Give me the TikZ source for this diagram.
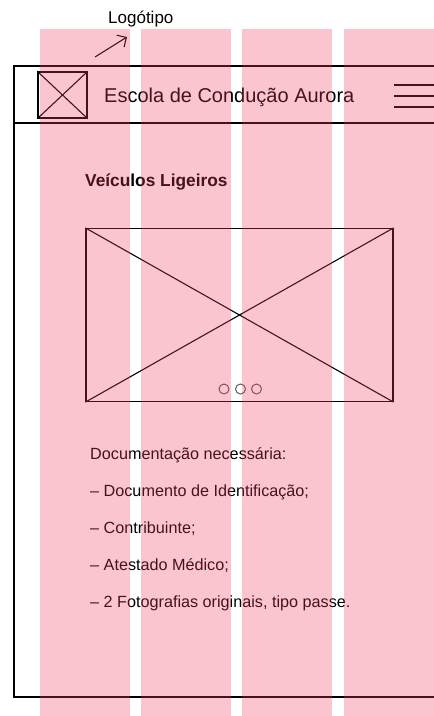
\documentclass[tikz,border=0pt]{standalone}
\usepackage{fontspec}
\setmainfont{Liberation Sans}
\usetikzlibrary{arrows.meta,positioning}
\definecolor{gridpink}{RGB}{238,62,95}
\definecolor{dotgray}{RGB}{90,90,90}

\tikzset{
    frameline/.style={draw=black, line width=1.6pt},
    boxline/.style={draw=black, line width=1.3pt},
    crossline/.style={draw=black, line width=1.1pt},
    plain/.style={inner sep=0pt, anchor=west},
    gridcol/.style={fill=gridpink, fill opacity=0.3, draw=none},
}

\begin{document}
\begin{tikzpicture}[x=1pt, y=-1pt]
    \useasboundingbox (0,0) rectangle (434,716);

    % page frame and header
    \draw[frameline] (440,66) -- (14,66) -- (14,697) -- (440,697);
    \draw[frameline] (14,123) -- (440,123);

    % logo
    \node[boxline, minimum width=49pt, minimum height=46pt, inner sep=0pt] (logo) at (62.5,95) {};
    \draw[crossline] (logo.north west) -- (logo.south east);
    \draw[crossline] (logo.south west) -- (logo.north east);

    \node[plain, font=\fontsize{20}{24}\selectfont] (brand) at (104,97) {Escola de Condução Aurora};

    % menu
    \foreach \y [count=\i] in {85,96,107}
        \draw[line width=1.6pt] (394,\y) coordinate (menu\i) -- (440,\y);

    % logo label
    \node[plain, font=\fontsize{17}{20}\selectfont] (logolbl) at (108,19) {Logótipo};
    \coordinate (arrtail) at (95,57);
    \coordinate (arrhead) at (127,37);
    \draw[line width=1.1pt, -{Straight Barb[length=7pt, width=14pt]}] (arrtail) -- (arrhead);

    % section title
    \node[plain, font=\bfseries\fontsize{17.3}{20}\selectfont] (section) at (85,182) {Veículos Ligeiros};

    % image placeholder
    \node[boxline, minimum width=307pt, minimum height=173pt, inner sep=0pt] (photo) at (239.5,315) {};
    \draw[crossline] (photo.north west) -- (photo.south east);
    \draw[crossline] (photo.south west) -- (photo.north east);
    \foreach \x [count=\i] in {224,240.5,256.5}
        \draw[dotgray, line width=1pt] (\x,389) circle (5pt) coordinate (dot\i);

    % documents list
    \foreach \txt [count=\i from 0] in {Documentação necessária:,
            – Documento de Identificação;,
            – Contribuinte;,
            – Atestado Médico;,
            {– 2 Fotografias originais, tipo passe.}}
        \node[plain, font=\fontsize{16.2}{19}\selectfont] (doc\i) at (90,455+37*\i) {\txt};

    % layout grid columns
    \foreach \c in {0,...,3}
        \fill[gridcol] (40+101.2*\c,29) rectangle (130+101.2*\c,716);
\end{tikzpicture}
\end{document}
